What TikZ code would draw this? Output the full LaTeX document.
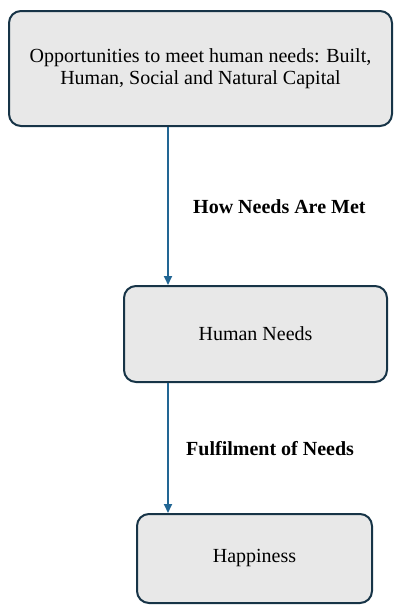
\documentclass[tikz,border=0pt]{standalone}
\usepackage{fontspec}
\setmainfont{Liberation Serif}
\usetikzlibrary{arrows.meta}
\definecolor{boxfill}{HTML}{E8E8E8}
\definecolor{boxline}{HTML}{173447}
\definecolor{arrowcol}{HTML}{226694}
\tikzset{
  box/.style={draw=boxline, line width=2pt, fill=boxfill, rounded corners=12pt,
    rectangle, inner sep=0pt, align=center, font=\fontsize{20}{22.5}\selectfont},
  conn/.style={draw=arrowcol, line width=1.8pt, -{Triangle[length=9pt,width=8pt]}},
  lab/.style={anchor=west, font=\fontsize{20}{22}\selectfont\bfseries, inner sep=0pt}
}
\begin{document}
\begin{tikzpicture}[x=1pt,y=-1pt]
\useasboundingbox (0,0) rectangle (396,606);
\node[box, minimum width=383pt, minimum height=115pt] (top) at (200.5,68.5)
  {Opportunities to meet human needs: Built,\\Human, Social and Natural Capital};
\node[box, minimum width=263pt, minimum height=96pt] (hn) at (255.5,334) {Human Needs};
\node[box, minimum width=235pt, minimum height=89pt] (hp) at (254.5,558.5) {Happiness};
\coordinate (ax) at (168,0);
\draw[conn] (ax |- top.south) -- (ax |- hn.north);
\draw[conn] (ax |- hn.south) -- (ax |- hp.north);
\node[lab] (l1) at (193,207) {How Needs Are Met};
\node[lab] (l2) at (186,449) {Fulfilment of Needs};
\end{tikzpicture}
\end{document}
